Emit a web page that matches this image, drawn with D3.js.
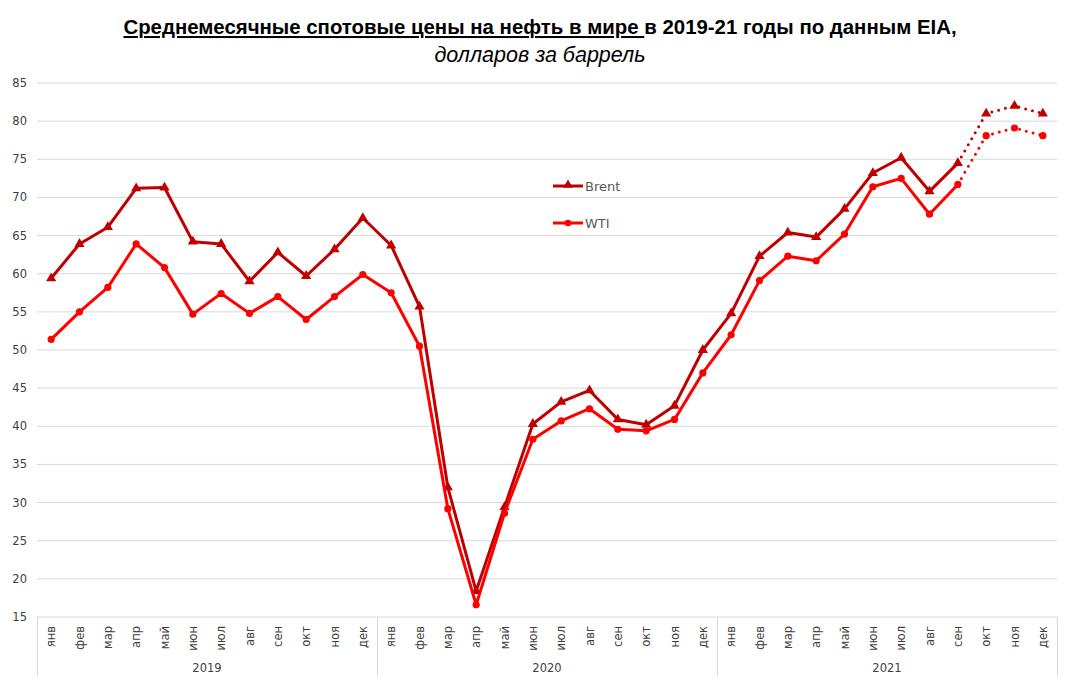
<!DOCTYPE html>
<html><head><meta charset="utf-8">
<script src="https://cdn.jsdelivr.net/npm/d3@7"></script>
<style>body{margin:0;background:#fff}svg{display:block}</style>
</head><body>
<svg id="c" width="1079" height="695"></svg>
<script>
const years = ["2019","2020","2021"];
const months = ["янв","фев","мар","апр","май","июн","июл","авг","сен","окт","ноя","дек"];
const brent = [59.4,63.9,66.1,71.2,71.3,64.2,63.9,59.0,62.8,59.7,63.2,67.3,
               63.7,55.7,32.0,18.4,29.4,40.3,43.2,44.7,40.9,40.2,42.7,50.0,
               54.8,62.3,65.4,64.8,68.5,73.2,75.2,70.8,74.5,81.0,82.0,81.0];
const wti =   [51.4,55.0,58.2,63.9,60.8,54.7,57.4,54.8,57.0,54.0,57.0,59.9,
               57.5,50.5,29.2,16.6,28.6,38.3,40.7,42.3,39.6,39.4,40.9,47.0,
               52.0,59.1,62.3,61.7,65.2,71.4,72.5,67.8,71.7,78.1,79.1,78.1];
const forecastStart = 32; // index of last actual value (сен 2021)
const yTicks = d3.range(15, 86, 5);

const svg = d3.select("#c");
const L = 37, R = 1057, T = 83, B = 617;
const cats = d3.range(years.length * months.length);
const x = d3.scaleBand().domain(cats).range([L, R]);
const y = d3.scaleLinear().domain([15, 85]).range([B, T]);
const cx = i => x(i) + x.bandwidth() / 2;

// gridlines
svg.append("g").selectAll("line").data(yTicks).join("line")
  .attr("x1", L).attr("x2", R).attr("y1", d => y(d)).attr("y2", d => y(d))
  .attr("stroke", "#d9d9d9").attr("stroke-width", 1);

// y labels
svg.append("g").selectAll("text").data(yTicks).join("text")
  .attr("x", 27).attr("y", d => y(d) + 4).attr("text-anchor", "end")
  .attr("font-family", "DejaVu Sans").attr("font-size", 11.5).attr("fill", "#404040")
  .text(d => d);

// x axis separators
const sepX = d3.range(years.length + 1).map(k => k === years.length ? R : x(k * 12));
svg.append("g").selectAll("line").data(sepX).join("line")
  .attr("x1", d => Math.round(d) + 0.5).attr("x2", d => Math.round(d) + 0.5)
  .attr("y1", B).attr("y2", 676).attr("stroke", "#d9d9d9");

// month labels
svg.append("g").selectAll("text").data(cats).join("text")
  .attr("transform", i => `translate(${cx(i) + 4},626) rotate(-90)`)
  .attr("text-anchor", "end")
  .attr("font-family", "DejaVu Sans").attr("font-size", 11.5).attr("fill", "#404040")
  .text(i => months[i % 12]);

// year labels
svg.append("g").selectAll("text").data(years).join("text")
  .attr("x", (d, k) => (x(k * 12) + (k === years.length - 1 ? R : x(k * 12 + 12))) / 2)
  .attr("y", 672).attr("text-anchor", "middle")
  .attr("font-family", "DejaVu Sans").attr("font-size", 11.5).attr("fill", "#404040")
  .text(d => d);

const line = d3.line().x(d => cx(d.i)).y(d => y(d.v));

function series(vals, color, marker) {
  const pts = vals.map((v, i) => ({ i, v }));
  const g = svg.append("g");
  g.append("path").datum(pts.slice(0, forecastStart + 1)).attr("d", line)
    .attr("fill", "none").attr("stroke", color).attr("stroke-width", 3)
    .attr("stroke-linejoin", "round");
  g.append("path").datum(pts.slice(forecastStart)).attr("d", line)
    .attr("fill", "none").attr("stroke", color).attr("stroke-width", 3)
    .attr("stroke-linecap", "round").attr("stroke-dasharray", "0 7");
  if (marker === "tri") {
    g.selectAll("path.m").data(pts).join("path").attr("class", "m")
      .attr("transform", d => `translate(${cx(d.i)},${y(d.v)})`)
      .attr("d", d3.symbol(d3.symbolTriangle, 45)).attr("fill", color);
  } else {
    g.selectAll("circle").data(pts).join("circle")
      .attr("cx", d => cx(d.i)).attr("cy", d => y(d.v)).attr("r", 3.6).attr("fill", color);
  }
}
series(brent, "#c00000", "tri");
series(wti, "#ff0000", "circle");

// legend
const legend = [["Brent", "#c00000", "tri", 186], ["WTI", "#ff0000", "circle", 223]];
legend.forEach(([name, color, m, ly]) => {
  svg.append("line").attr("x1", 553).attr("x2", 583).attr("y1", ly).attr("y2", ly)
    .attr("stroke", color).attr("stroke-width", 3);
  if (m === "tri") svg.append("path").attr("transform", `translate(568,${ly - 1})`)
    .attr("d", d3.symbol(d3.symbolTriangle, 40)).attr("fill", color);
  else svg.append("circle").attr("cx", 568).attr("cy", ly).attr("r", 3.3).attr("fill", color);
  svg.append("text").attr("x", 585).attr("y", ly + 5).attr("font-family", "DejaVu Sans")
    .attr("font-size", 13).attr("fill", "#595959").text(name);
});

// title
const title = svg.append("text").attr("x", 540).attr("y", 34).attr("text-anchor", "middle")
  .attr("font-family", "'Liberation Sans Narrow', 'Liberation Sans', sans-serif")
  .attr("font-size", 20.4).attr("font-weight", "bold").attr("fill", "#000");
title.append("tspan").attr("text-decoration", "underline").text("Среднемесячные спотовые цены на нефть в мире ");
title.append("tspan").text("в 2019-21 годы по данным EIA,");
svg.append("text").attr("x", 540).attr("y", 62).attr("text-anchor", "middle")
  .attr("font-family", "'Liberation Sans Narrow', 'Liberation Sans', sans-serif")
  .attr("font-size", 21.5).attr("font-style", "italic").attr("fill", "#000")
  .text("долларов за баррель");
</script>
</body></html>
